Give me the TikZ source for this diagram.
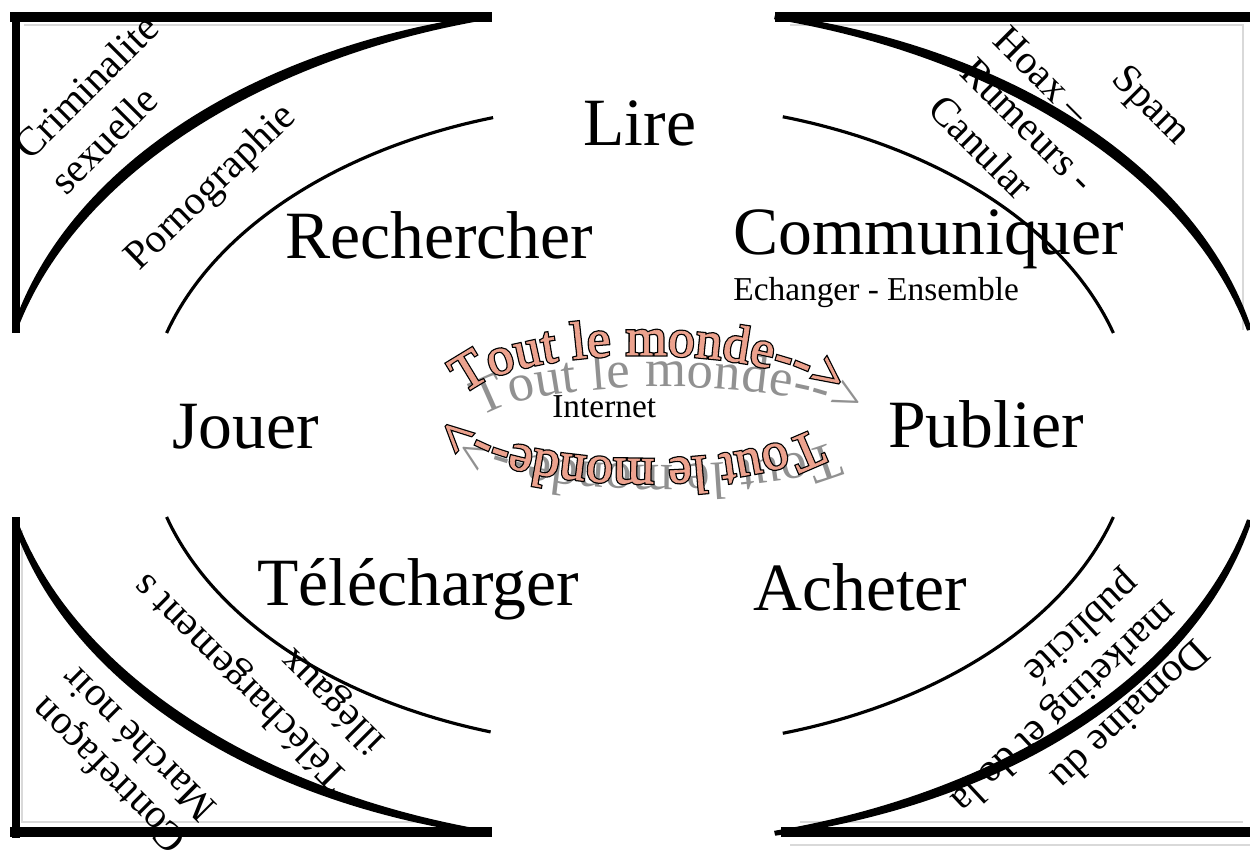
\documentclass[tikz,border=0pt]{standalone}
\usepackage{fontspec}
\setmainfont{Liberation Serif}
\newfontfamily\wafam[FakeBold=1.2]{Liberation Serif}
\newfontfamily\wafamsh{Liberation Serif}
\newfontfamily\wafamb[FakeBold=6]{Liberation Serif}
\usetikzlibrary{decorations.text}
\definecolor{wasalmon}{RGB}{236,162,142}
\definecolor{washadow}{RGB}{145,145,145}
\newcommand\wafsz{\fontsize{30}{31}\selectfont}
\newcommand\taperarc[2]{%
  \fill[black] plot[domain=#1:#2,samples=60,variable=\t]
   ({632+(634+2.5+3*sin(180*(\t-#1)/(#2-#1)))*cos(\t)},{425+(419+2.5+3*sin(180*(\t-#1)/(#2-#1)))*sin(\t)})
   -- plot[domain=#2:#1,samples=60,variable=\t]
   ({632+(634-2.5-3*sin(180*(\t-#1)/(#2-#1)))*cos(\t)},{425+(419-2.5-3*sin(180*(\t-#1)/(#2-#1)))*sin(\t)})
   -- cycle;}
\tikzset{
  biglabel/.style={font=\fontsize{38.5}{40}\selectfont, inner sep=0pt, anchor=base west},
  smalllabel/.style={font=\fontsize{19}{21}\selectfont, inner sep=0pt, anchor=base west},
  cornertxt/.style={font=\fontsize{23.2}{25}\selectfont, inner sep=0pt, anchor=base west},
  thinarc/.style={line width=1.8pt},
  framel/.style={line width=5.7pt},
  framev/.style={line width=4pt},
  faint/.style={draw=black!15, line width=0.8pt},
}
\begin{document}
\begin{tikzpicture}[x=0.02cm,y=-0.02cm]
\useasboundingbox (0,0) rectangle (1250,850);
\fill[white] (0,0) rectangle (1250,850);

% faint inner lines
\draw[faint] (24,25) -- (445,25);
\draw[faint] (22,530) -- (22,822) -- (440,822);
\draw[faint] (790,25) -- (1243,25) -- (1243,330);
\draw[faint] (800,822) -- (1243,822);
\draw[faint] (790,845) -- (1250,845);

% frame lines
\draw[framel] (10,17) -- (492,17);
\draw[framev] (16,12) -- (16,333);
\draw[framel] (775,17) -- (1250,17);
\draw[framev] (16,517) -- (16,838);
\draw[framel] (10,832) -- (492,832);
\draw[framel] (781,832) -- (1250,832);

% thick tapered arcs
\taperarc{193.1}{257}
\taperarc{283}{346.9}
\taperarc{103}{166.9}
\taperarc{13.1}{77}

% thin arcs of the inner ellipse
\draw[thinarc] plot[domain=196.6:252.7,samples=50,variable=\t] ({640+494*cos(\t)},{425+322*sin(\t)});
\draw[thinarc] plot[domain=286.8:343.4,samples=50,variable=\t] ({640+494*cos(\t)},{425+322*sin(\t)});
\draw[thinarc] plot[domain=107.6:163.4,samples=50,variable=\t] ({640+494*cos(\t)},{425+322*sin(\t)});
\draw[thinarc] plot[domain=16.6:73.2,samples=50,variable=\t] ({640+494*cos(\t)},{425+322*sin(\t)});

% main labels
\node[biglabel] (lire) at (583,145) {Lire};
\node[biglabel] (rech) at (285,258) {Rechercher};
\node[biglabel] (comm) at (733,254) {Communiquer};
\node[smalllabel] (ech) at (733,300) {Echanger - Ensemble};
\node[biglabel] (jouer) at (172,448) {Jouer};
\node[biglabel] (publ) at (888,447) {Publier};
\node[biglabel] (telech) at (257,605) {Télécharger};
\node[biglabel] (achet) at (753,610) {Acheter};
\node[smalllabel] (inet) at (552,417) {Internet};

% corner texts
\node[cornertxt, rotate=45] (crim) at (30,162) {Criminalité};
\node[cornertxt, rotate=45] (sexu) at (66,197) {sexuelle};
\node[cornertxt, rotate=44] (porno) at (139,272) {Pornographie};

\node[cornertxt, rotate=-45] (hoax) at (991,42) {Hoax –};
\node[cornertxt, rotate=-45] (rum) at (958,74) {Rumeurs -};
\node[cornertxt, rotate=-45] (canu) at (926,111) {Canular};
\node[cornertxt, rotate=-45] (spam) at (1110,80) {Spam};

\node[cornertxt, rotate=135] (contre) at (189,838) {Contrefaçon};
\node[cornertxt, rotate=135] (marche) at (219,806) {Marché noir};
\node[cornertxt, rotate=135] (telil) at (351,776) {Téléchargement s};
\node[cornertxt, rotate=135] (illeg) at (387,740) {illégaux};

\node[cornertxt, rotate=223] (dom) at (1195,637) {Domaine du};
\node[cornertxt, rotate=223] (mark) at (1164,598) {marketing et de la};
\node[cornertxt, rotate=223] (pub) at (1127,570) {publicité};

% WordArt: shadows
\path[decorate, decoration={text along path, text={|\wafsz\wafamsh|Tout le monde-->}, text align=fit to path, text color=washadow}]
  ({665+188*cos(193)},{427+40*sin(193)}) arc[start angle=193, end angle=352, x radius=188, y radius=40];
\path[decorate, decoration={text along path, text={|\wafsz\wafamsh|Tout le monde-->}, text align=fit to path, text color=washadow}]
  ({660+188*cos(22)},{425+40*sin(22)}) arc[start angle=22, end angle=168, x radius=188, y radius=40];
% WordArt: outlines
\path[decorate, decoration={text along path, text={|\wafsz\wafamb|Tout le monde-->}, text align=fit to path, text color=black}]
  ({645+185*cos(193)},{407+52*sin(193)}) arc[start angle=193, end angle=352, x radius=185, y radius=52];
\path[decorate, decoration={text along path, text={|\wafsz\wafamb|Tout le monde-->}, text align=fit to path, text color=black}]
  ({645+185*cos(24)},{407+52*sin(24)}) arc[start angle=24, end angle=168, x radius=185, y radius=52];
% WordArt: fills
\path[decorate, decoration={text along path, text={|\wafsz\wafam|Tout le monde-->}, text align=fit to path, text color=wasalmon}]
  ({645+185*cos(193)},{407+52*sin(193)}) arc[start angle=193, end angle=352, x radius=185, y radius=52];
\path[decorate, decoration={text along path, text={|\wafsz\wafam|Tout le monde-->}, text align=fit to path, text color=wasalmon}]
  ({645+185*cos(24)},{407+52*sin(24)}) arc[start angle=24, end angle=168, x radius=185, y radius=52];
\end{tikzpicture}
\end{document}
